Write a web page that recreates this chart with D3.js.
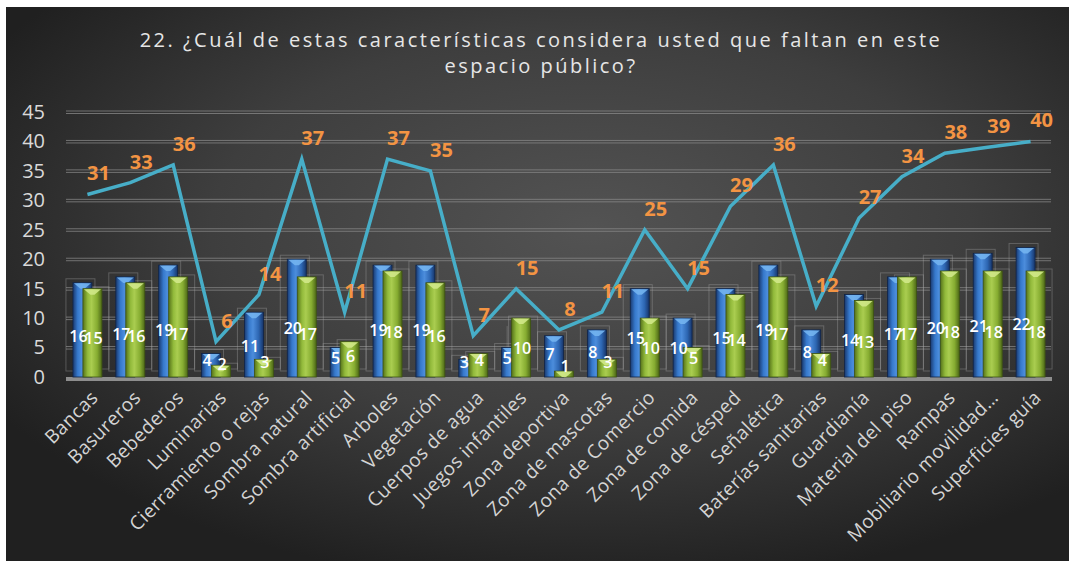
<!DOCTYPE html>
<html>
<head>
<meta charset="utf-8">
<script src="https://cdn.jsdelivr.net/npm/d3@7"></script>
<style>
  html, body { margin: 0; padding: 0; background: #ffffff; }
  svg { display: block; }
</style>
</head>
<body>
<svg id="chart" width="1069" height="561"></svg>
<script>
// Categories and series
const categories = ["Bancas", "Basureros", "Bebederos", "Luminarias", "Cierramiento o rejas",
  "Sombra natural", "Sombra artificial", "Arboles", "Vegetación", "Cuerpos de agua",
  "Juegos infantiles", "Zona deportiva", "Zona de mascotas", "Zona de Comercio",
  "Zona de comida", "Zona de césped", "Señalética", "Baterías sanitarias", "Guardianía",
  "Material del piso", "Rampas", "Mobiliario movilidad…", "Superficies guía"];
const blueValues  = [16, 17, 19, 4, 11, 20, 5, 19, 19, 3, 5, 7, 8, 15, 10, 15, 19, 8, 14, 17, 20, 21, 22];
const greenValues = [15, 16, 17, 2, 3, 17, 6, 18, 16, 4, 10, 1, 3, 10, 5, 14, 17, 4, 13, 17, 18, 18, 18];
const lineValues  = [31, 33, 36, 6, 14, 37, 11, 37, 35, 7, 15, 8, 11, 25, 15, 29, 36, 12, 27, 34, 38, 39, 40];
const yTicks = [0, 5, 10, 15, 20, 25, 30, 35, 40, 45];
const titleLines = ["22. ¿Cuál de estas características considera usted que faltan en este",
  "espacio público?"];

const W = 1069, H = 561;
const FONT = "'Open Sans', 'Noto Sans', sans-serif";
const svg = d3.select("#chart");
const defs = svg.append("defs");

// Background panel
const bg = defs.append("radialGradient").attr("id", "bgGrad")
  .attr("cx", "55%").attr("cy", "40%").attr("r", "65%");
bg.append("stop").attr("offset", "0%").attr("stop-color", "#535353");
bg.append("stop").attr("offset", "55%").attr("stop-color", "#3e3e3e");
bg.append("stop").attr("offset", "100%").attr("stop-color", "#202020");
svg.append("rect").attr("x", 6).attr("y", 7).attr("width", W - 6).attr("height", H - 7)
  .attr("fill", "url(#bgGrad)");

// Bar gradients (cylinder shading)
function barGrad(id, stops) {
  const g = defs.append("linearGradient").attr("id", id)
    .attr("x1", "0%").attr("x2", "100%").attr("y1", "0%").attr("y2", "0%");
  stops.forEach(([o, c]) => g.append("stop").attr("offset", o).attr("stop-color", c));
}
barGrad("blueGrad", [["0%", "#1a3a70"], ["25%", "#3679cc"], ["45%", "#4c8ddc"], ["75%", "#2d66b2"], ["100%", "#17356a"]]);
barGrad("greenGrad", [["0%", "#56731a"], ["25%", "#92ba3b"], ["45%", "#aacd50"], ["75%", "#86ac31"], ["100%", "#4d6817"]]);

// Scales
const x = d3.scaleBand().domain(categories).range([66, 1052]).padding(0);
const y = d3.scaleLinear().domain([0, 45]).range([377, 112]);
const barW = 19;
const blueX = c => x(c) + x.bandwidth() / 2 - 5 - barW / 2;
const greenX = c => x(c) + x.bandwidth() / 2 + 5 - barW / 2;
const cx = c => x(c) + x.bandwidth() / 2;

// Gridlines (double strokes like a 3D back wall)
const grid = svg.append("g");
yTicks.filter(t => t > 0).forEach(t => {
  [-1, 1.5].forEach(d => {
    grid.append("line").attr("x1", 66).attr("x2", 1051)
      .attr("y1", y(t) + d).attr("y2", y(t) + d)
      .attr("stroke", "#8a8a8a").attr("stroke-opacity", 0.75).attr("stroke-width", 1);
  });
});

// Y axis labels
const yAxis = d3.axisLeft(y).tickValues(yTicks).tickSize(0).tickPadding(0);
const yG = svg.append("g").attr("transform", "translate(45,0)").call(yAxis);
yG.select(".domain").remove();
yG.selectAll("text").attr("fill", "#d9d9d9")
  .style("font-family", FONT).style("font-size", "20px");

// Faint 3D frame outlines around bars
const frames = svg.append("g").attr("fill", "none").attr("stroke", "#b0b0b0")
  .attr("stroke-opacity", 0.35).attr("stroke-width", 1);
categories.forEach((c, i) => {
  const top = y(Math.max(blueValues[i], greenValues[i]));
  frames.append("rect").attr("x", blueX(c) - 7).attr("y", y(blueValues[i]) - 4)
    .attr("width", barW + 10).attr("height", y(0) - y(blueValues[i]) - 2);
  frames.append("rect").attr("x", greenX(c) - 3).attr("y", y(greenValues[i]) - 2)
    .attr("width", barW + 10).attr("height", y(0) - y(greenValues[i]) - 6);
  frames.append("line").attr("x1", cx(c) - 9).attr("x2", cx(c) - 9)
    .attr("y1", top + 8).attr("y2", y(0) - 6);
});

// Floor
svg.append("rect").attr("x", 66).attr("y", y(0)).attr("width", 986).attr("height", 4)
  .attr("fill", "#8e8e8e");

// Bars
function drawBars(values, xFn, grad, capColor, edge) {
  const g = svg.append("g");
  categories.forEach((c, i) => {
    const v = values[i];
    const bx = xFn(c), by = y(v), bh = y(0) - y(v);
    g.append("rect").attr("x", bx).attr("y", by).attr("width", barW).attr("height", bh)
      .attr("fill", `url(#${grad})`).attr("stroke", edge).attr("stroke-width", 0.8);
    const capH = Math.min(6, bh);
    g.append("path")
      .attr("d", `M${bx + 1},${by + 0.5} L${bx + barW - 1},${by + 0.5} L${bx + barW / 2 + 2},${by + capH} L${bx + barW / 2 - 2},${by + capH} Z`)
      .attr("fill", capColor).attr("opacity", 0.9);
  });
}
drawBars(blueValues, blueX, "blueGrad", "#73b4f0", "#0f2448");
drawBars(greenValues, greenX, "greenGrad", "#d0e888", "#3e5412");

// Bar value labels
const barLabelY = v => y(v * 0.34) - 9;
function drawBarLabels(values, xFn, dx) {
  svg.append("g").selectAll("text").data(values).join("text")
    .attr("x", (v, i) => xFn(categories[i]) + barW / 2 + dx)
    .attr("y", v => barLabelY(v))
    .attr("dy", "0.35em").attr("text-anchor", "middle")
    .attr("fill", "#ffffff")
    .style("font-family", FONT)
    .style("font-size", "16px").style("font-weight", 600)
    .text(v => v);
}
drawBarLabels(blueValues, blueX, -4);
drawBarLabels(greenValues, greenX, 1);

// Line series
const line = d3.line().x((v, i) => cx(categories[i])).y(v => y(v));
svg.append("path").datum(lineValues).attr("d", line)
  .attr("fill", "none").attr("stroke", "#47aec8").attr("stroke-width", 3.5)
  .attr("stroke-linejoin", "miter");

svg.append("g").selectAll("text").data(lineValues).join("text")
  .attr("x", (v, i) => cx(categories[i]) + 11)
  .attr("y", v => y(v) - 21)
  .attr("dy", "0.35em").attr("text-anchor", "middle")
  .attr("fill", "#f39443")
  .style("font-family", FONT)
  .style("font-size", "20px").style("font-weight", 700)
  .text(v => v);

// X axis labels
svg.append("g").selectAll("text").data(categories).join("text")
  .attr("transform", c => `translate(${cx(c) + 7},${394}) rotate(-45)`)
  .attr("text-anchor", "end").attr("dy", "0.35em")
  .attr("fill", "#d4d4d4")
  .style("font-family", FONT).style("font-size", "19px").style("letter-spacing", "0.4px")
  .text(c => c);

// Title
svg.append("g").selectAll("text").data(titleLines).join("text")
  .attr("x", 541).attr("y", (d, i) => 47 + i * 26)
  .attr("text-anchor", "middle").attr("fill", "#e6e6e6")
  .style("font-family", FONT)
  .style("font-size", "20px").style("letter-spacing", "2.5px")
  .text(d => d);
</script>
</body>
</html>
